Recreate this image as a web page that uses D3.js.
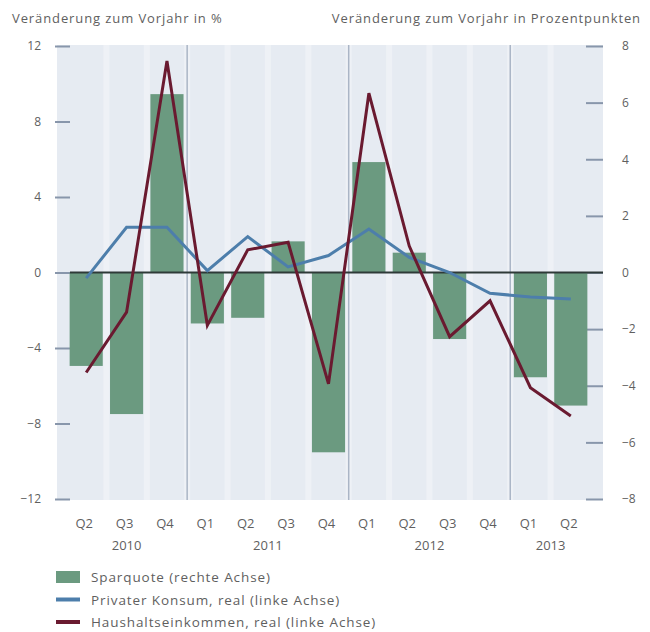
<!DOCTYPE html>
<html>
<head>
<meta charset="utf-8">
<script src="https://cdn.jsdelivr.net/npm/d3@7"></script>
<style>
  body { margin: 0; background: #fff; }
  svg text { font-family: "Open Sans", "DejaVu Sans", sans-serif; fill: #5f5f5f; }
</style>
</head>
<body>
<div id="chart"></div>
<script>
// quarters Q2 2010 .. Q2 2013
const periods = ["2010Q2","2010Q3","2010Q4","2011Q1","2011Q2","2011Q3","2011Q4",
                 "2012Q1","2012Q2","2012Q3","2012Q4","2013Q1","2013Q2"];
const quarterLabels = ["Q2","Q3","Q4","Q1","Q2","Q3","Q4","Q1","Q2","Q3","Q4","Q1","Q2"];
const yearLabels = [
  { year: "2010", from: "2010Q2", to: "2010Q4" },
  { year: "2011", from: "2011Q1", to: "2011Q4" },
  { year: "2012", from: "2012Q1", to: "2012Q4" },
  { year: "2013", from: "2013Q1", to: "2013Q2" }
];

// Sparquote, right axis (percentage points)
const sparquote = [-3.3, -5.0, 6.3, -1.8, -1.6, 1.1, -6.35, 3.9, 0.7, -2.35, 0, -3.7, -4.7];
// Privater Konsum, real, left axis (%)
const konsum = [-0.3, 2.4, 2.4, 0.1, 1.9, 0.3, 0.9, 2.3, 0.8, 0.0, -1.1, -1.3, -1.4];
// Haushaltseinkommen, real, left axis (%)
const einkommen = [-5.3, -2.1, 11.2, -2.8, 1.2, 1.6, -5.9, 9.5, 1.4, -3.4, -1.5, -6.1, -7.6];

const leftTicks = [-12, -8, -4, 0, 4, 8, 12];
const rightTicks = [-8, -6, -4, -2, 0, 2, 4, 6, 8];

const legendItems = [
  { label: "Sparquote (rechte Achse)", type: "bar", color: "#6b9a80" },
  { label: "Privater Konsum, real (linke Achse)", type: "line", color: "#4d7eab" },
  { label: "Haushaltseinkommen, real (linke Achse)", type: "line", color: "#6a1a30" }
];

const width = 650, height = 632;
const plot = { left: 57, right: 603, top: 45, bottom: 500 };

const svg = d3.select("#chart").append("svg")
    .attr("width", width)
    .attr("height", height);

// Scales
const x = d3.scaleBand()
    .domain(periods)
    .range([66, 591])
    .paddingInner(0.18)
    .paddingOuter(0.09);

const yLeft = d3.scaleLinear().domain([-12, 12]).range([499, 46]);
const yRight = d3.scaleLinear().domain([-8, 8]).range([499, 46]);

// Background
svg.append("rect")
    .attr("x", plot.left)
    .attr("y", plot.top)
    .attr("width", plot.right - plot.left)
    .attr("height", plot.bottom - plot.top)
    .attr("fill", "#e6ebf2");

// lighter stripes between quarters
const step = x.step();
const gaps = periods.slice(1).map(p => x(p) - (step - x.bandwidth()) / 2);
svg.append("g").selectAll("rect")
    .data(gaps)
    .join("rect")
    .attr("x", d => d - 3)
    .attr("y", plot.top)
    .attr("width", 6)
    .attr("height", plot.bottom - plot.top)
    .attr("fill", "#eef1f6");

// year separators
const yearBreaks = ["2011Q1", "2012Q1", "2013Q1"];
svg.append("g").selectAll("line")
    .data(yearBreaks)
    .join("line")
    .attr("x1", d => x(d) - (step - x.bandwidth()) / 2)
    .attr("x2", d => x(d) - (step - x.bandwidth()) / 2)
    .attr("y1", plot.top)
    .attr("y2", plot.bottom)
    .attr("stroke", "#aab5c6")
    .attr("stroke-width", 1.5);

// Left axis
const leftAxis = d3.axisLeft(yLeft)
    .tickValues(leftTicks)
    .tickSize(15)
    .tickPadding(14)
    .tickFormat(d => d < 0 ? "\u2212" + Math.abs(d) : d);

svg.append("g")
    .attr("transform", "translate(70,0)")
    .call(leftAxis)
    .call(g => g.select(".domain").remove())
    .call(g => g.selectAll("line").attr("stroke", "#8896ab").attr("stroke-width", 2))
    .call(g => g.selectAll("text").style("font-size", "12px"));

// Right axis
const rightAxis = d3.axisRight(yRight)
    .tickValues(rightTicks)
    .tickSize(17)
    .tickPadding(19)
    .tickFormat(d => d < 0 ? "\u2212" + Math.abs(d) : d);

svg.append("g")
    .attr("transform", "translate(586,0)")
    .call(rightAxis)
    .call(g => g.select(".domain").remove())
    .call(g => g.selectAll("line").attr("stroke", "#8896ab").attr("stroke-width", 2))
    .call(g => g.selectAll("text").style("font-size", "12px"));

// Bars (right axis)
svg.append("g").selectAll("rect")
    .data(periods.map((p, i) => ({ p, v: sparquote[i] })))
    .join("rect")
    .attr("x", d => x(d.p))
    .attr("width", x.bandwidth())
    .attr("y", d => yRight(Math.max(0, d.v)))
    .attr("height", d => Math.abs(yRight(d.v) - yRight(0)))
    .attr("fill", "#6b9a80");

// zero line
svg.append("line")
    .attr("x1", 70)
    .attr("x2", 603)
    .attr("y1", yLeft(0))
    .attr("y2", yLeft(0))
    .attr("stroke", "#2e3a38")
    .attr("stroke-width", 2);

// Lines (left axis)
const line = d3.line()
    .x((d, i) => x(periods[i]) + x.bandwidth() / 2)
    .y(d => yLeft(d));

svg.append("path")
    .datum(konsum)
    .attr("d", line)
    .attr("fill", "none")
    .attr("stroke", "#4d7eab")
    .attr("stroke-width", 3);

svg.append("path")
    .datum(einkommen)
    .attr("d", line)
    .attr("fill", "none")
    .attr("stroke", "#6a1a30")
    .attr("stroke-width", 3);

// X labels
svg.append("g").selectAll("text")
    .data(quarterLabels)
    .join("text")
    .attr("x", (d, i) => x(periods[i]) + x.bandwidth() / 2 - 2)
    .attr("y", 528)
    .attr("text-anchor", "middle")
    .style("font-size", "13px")
    .text(d => d);

svg.append("g").selectAll("text")
    .data(yearLabels)
    .join("text")
    .attr("x", d => (x(d.from) + x(d.to) + x.bandwidth()) / 2)
    .attr("y", 550)
    .attr("text-anchor", "middle")
    .style("font-size", "13px")
    .text(d => d.year);

// Axis titles
svg.append("text")
    .attr("x", 12)
    .attr("y", 23)
    .style("font-size", "13px")
    .style("letter-spacing", "0.9px")
    .text("Veränderung zum Vorjahr in %");

svg.append("text")
    .attr("x", 641)
    .attr("y", 23)
    .attr("text-anchor", "end")
    .style("font-size", "13px")
    .style("letter-spacing", "0.9px")
    .text("Veränderung zum Vorjahr in Prozentpunkten");

// Legend
const legend = svg.append("g").attr("transform", "translate(56,577)");
const item = legend.selectAll("g")
    .data(legendItems)
    .join("g")
    .attr("transform", (d, i) => "translate(0," + i * 22.5 + ")");

item.filter(d => d.type === "bar").append("rect")
    .attr("x", 0).attr("y", -6).attr("width", 24).attr("height", 12)
    .attr("fill", d => d.color);

item.filter(d => d.type === "line").append("line")
    .attr("x1", 0).attr("x2", 24).attr("y1", 0).attr("y2", 0)
    .attr("stroke", d => d.color)
    .attr("stroke-width", 4);

item.append("text")
    .attr("x", 35)
    .attr("y", 5)
    .style("font-size", "13.5px")
    .style("letter-spacing", "0.9px")
    .text(d => d.label);
</script>
</body>
</html>
